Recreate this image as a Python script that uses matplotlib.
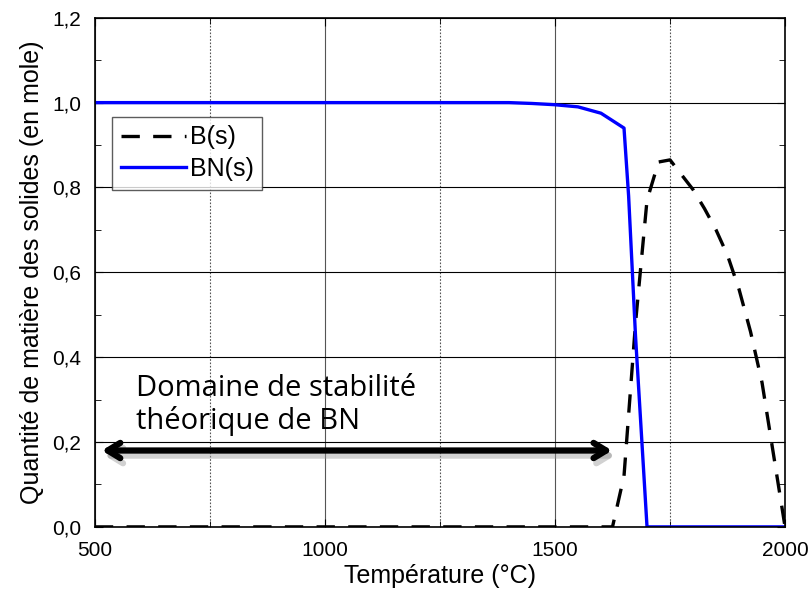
#!/usr/bin/env python3

import numpy as np
import matplotlib as mpl
import matplotlib.pyplot as plt
from matplotlib.ticker import MultipleLocator

# Solid amounts (mol) vs temperature (degC)
t_bn = [500, 1000, 1400, 1450, 1500, 1550, 1600, 1650, 1660, 1675, 1700, 2000]
n_bn = [1.0, 1.0, 1.0, 0.998, 0.995, 0.99, 0.975, 0.94, 0.78, 0.45, 0.0, 0.0]

t_b = [500, 1625, 1650, 1675, 1700, 1725, 1750, 1775, 1800, 1825, 1850,
       1875, 1900, 1925, 1950, 1975, 2000]
n_b = [0.0, 0.0, 0.12, 0.48, 0.77, 0.86, 0.865, 0.83, 0.795, 0.75, 0.70,
       0.64, 0.56, 0.46, 0.34, 0.17, 0.0]

stab_range = (515, 1624)
stab_level = 0.18


def main():
    mpl.rcParams['font.family'] = ['Liberation Sans', 'DejaVu Sans']

    fig = plt.figure(figsize=(8.11, 5.92), dpi=100)
    ax = fig.add_axes([0.117, 0.110, 0.851, 0.860])

    ax.plot(t_b, n_b, color='black', lw=2.4, dashes=(5.5, 4), label='B(s)')
    ax.plot(t_bn, n_bn, color='#0000ff', lw=2.4, label='BN(s)')

    ax.set_xlim(500, 2000)
    ax.set_ylim(0, 1.2)
    ax.xaxis.set_major_locator(MultipleLocator(500))
    ax.xaxis.set_minor_locator(MultipleLocator(250))
    ax.yaxis.set_major_locator(MultipleLocator(0.2))
    ax.yaxis.set_minor_locator(MultipleLocator(0.1))
    ax.yaxis.set_major_formatter(
        mpl.ticker.FuncFormatter(lambda v, p: f'{v:.1f}'.replace('.', ',')))

    ax.grid(axis='y', which='major', color='black', lw=0.8)
    ax.grid(axis='x', which='major', color='#555555', lw=0.8)
    ax.grid(axis='x', which='minor', color='#555555', lw=0.8, ls=(0, (1.5, 1.5)))
    ax.set_axisbelow(True)

    ax.tick_params(which='both', direction='in', top=True, right=True,
                   labelsize=15, pad=10)
    ax.tick_params(which='major', length=6)
    ax.tick_params(which='minor', length=4)
    for s in ax.spines.values():
        s.set_linewidth(1.2)

    ax.set_xlabel('Température (°C)', fontsize=18, labelpad=3)
    ax.set_ylabel('Quantité de matière des solides (en mole)', fontsize=18,
                  labelpad=6)

    leg = ax.legend(loc='upper left', bbox_to_anchor=(0.025, 0.806),
                    fontsize=18, frameon=True, fancybox=False,
                    handlelength=2.6, handletextpad=0.15, borderpad=0.35,
                    labelspacing=0.3, borderaxespad=0)
    leg.get_frame().set_edgecolor('#333333')
    leg.get_frame().set_linewidth(1.0)

    # stability domain arrow with a soft shadow
    style = '<->,head_length=0.9,head_width=0.55'
    ax.annotate('', xy=(stab_range[0] + 6, stab_level - 0.012),
                xytext=(stab_range[1] + 6, stab_level - 0.012),
                arrowprops=dict(arrowstyle=style, color='#999999', lw=4.5,
                                alpha=0.45, shrinkA=0, shrinkB=0))
    ax.annotate('', xy=(stab_range[0], stab_level),
                xytext=(stab_range[1], stab_level),
                arrowprops=dict(arrowstyle=style, color='black', lw=4.5,
                                shrinkA=0, shrinkB=0))
    ax.text(590, 0.215, 'Domaine de stabilité\nthéorique de BN',
            fontsize=21, family=['Open Sans', 'DejaVu Sans'],
            linespacing=1.1, va='bottom', ha='left')

    fig.savefig('out.png', dpi=100)


if __name__ == "__main__":
    main()
